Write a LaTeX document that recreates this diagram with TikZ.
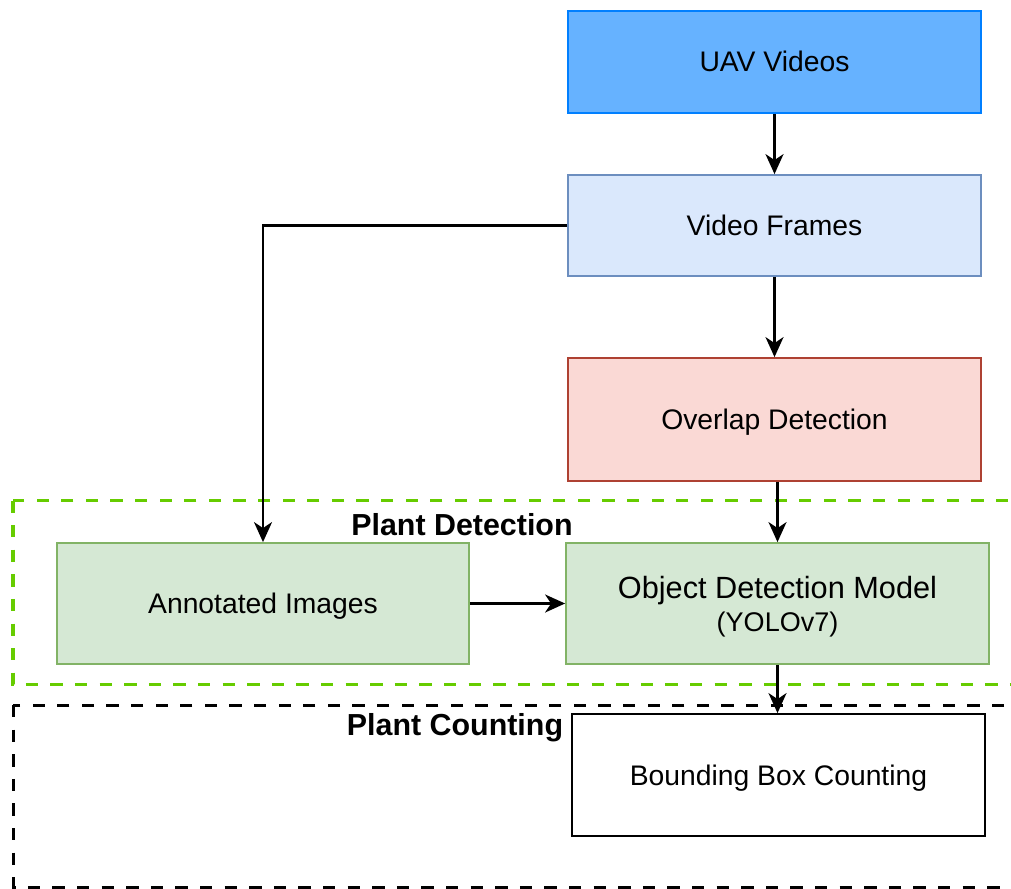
\documentclass[tikz,border=0pt]{standalone}
\usepackage{fontspec}
\setmainfont{Liberation Sans}
\usetikzlibrary{arrows.meta}
\definecolor{uavfill}{HTML}{66B2FF}
\definecolor{uavline}{HTML}{007FFF}
\definecolor{vffill}{HTML}{DAE8FC}
\definecolor{vfline}{HTML}{6C8EBF}
\definecolor{ovfill}{HTML}{FAD9D5}
\definecolor{ovline}{HTML}{AE4132}
\definecolor{gnfill}{HTML}{D5E8D4}
\definecolor{gnline}{HTML}{82B366}
\definecolor{gndash}{HTML}{66CC00}
\tikzset{
  stagebox/.style={draw, line width=1.8pt, rectangle, inner sep=0pt, align=center,
    text height=26pt, text depth=6pt,
    font=\fontsize{28.3}{34}\selectfont},
  flow/.style={draw=black, line width=2.2pt,
    -{Stealth[length=20pt, width=18pt, inset=6pt]}},
  groupframe/.style={line width=3.5pt, dash pattern=on 12.3pt off 12.3pt},
  grouplabel/.style={font=\fontsize{30.4}{36}\selectfont\bfseries, inner sep=0pt}
}
\begin{document}
\begin{tikzpicture}[x=1pt, y=-1pt]
  \useasboundingbox (0,0) rectangle (1011,888);
  \clip (0,0) rectangle (1011,888);
  \fill[white] (0,0) rectangle (1011,888);

  % group frames
  \draw[groupframe, draw=gndash] (13,500.5) rectangle (1040,684.5);
  \draw[groupframe, draw=black, line width=3pt] (13,705) rectangle (1040,887);
  \node[grouplabel] (pdlabel) at (462,524.5) {Plant Detection};
  \node[grouplabel] (pclabel) at (455,727.5) {Plant Counting};

  % stages
  \node[stagebox, fill=uavfill, draw=uavline, minimum width=413pt, minimum height=102pt]
    (uav) at (774.5,62) {UAV Videos};
  \node[stagebox, fill=vffill, draw=vfline, minimum width=413pt, minimum height=101pt]
    (vf) at (774.5,225.5) {Video Frames};
  \node[stagebox, fill=ovfill, draw=ovline, minimum width=413pt, minimum height=123pt]
    (ov) at (774.5,419.5) {Overlap Detection};
  \node[stagebox, fill=gnfill, draw=gnline, minimum width=412pt, minimum height=121pt]
    (ann) at (263,603.5) {Annotated Images};
  \node[stagebox, fill=gnfill, draw=gnline, minimum width=423pt, minimum height=121pt,
    text height=, text depth=]
    (odm) at (777.5,603.5) {};
  \node[inner sep=0pt, align=center, yshift=-3pt]
    (odmtext) at (odm.center)
    {\fontsize{30.7}{35}\selectfont Object Detection Model\\[6pt]
     \fontsize{27}{32}\selectfont (YOLOv7)};
  \node[stagebox, fill=white, draw=black, minimum width=413pt, minimum height=122pt]
    (bbc) at (778.5,775) {Bounding Box Counting};

  % connectors
  \draw[flow] (uav.south) -- (vf.north);
  \draw[flow] (vf.south) -- (ov.north);
  \draw[flow] (vf.west) -| (ann.north);
  \draw[flow] (ann.east) -- (odm.west);
  \draw[flow] (ov.south -| odm.north) -- (odm.north);
  \draw[flow] (odm.south) -- (bbc.north -| odm.south);
\end{tikzpicture}
\end{document}
